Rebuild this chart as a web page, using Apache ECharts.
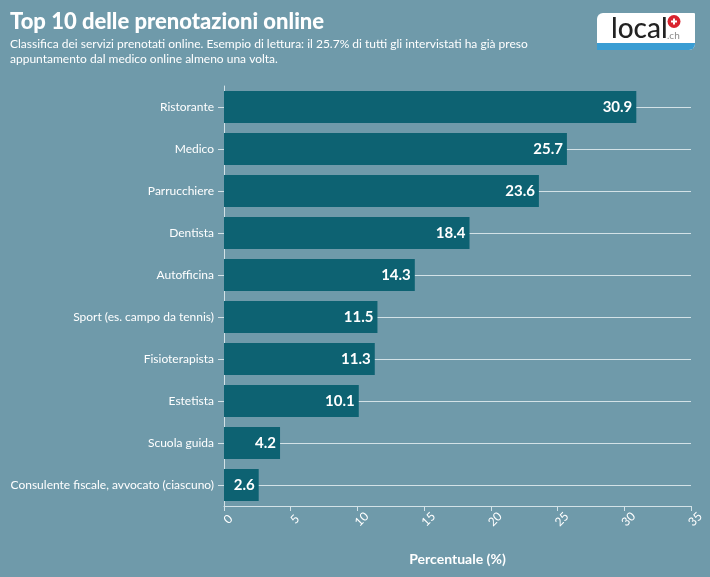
<!DOCTYPE html>
<html><head><meta charset="utf-8">
<style>html,body{margin:0;padding:0;background:#6f9aaa}#c{width:710px;height:577px}</style>
<script src="https://cdn.jsdelivr.net/npm/echarts@6/dist/echarts.min.js"></script></head>
<body><div id="c"></div>
<script>
const categories=["Ristorante","Medico","Parrucchiere","Dentista","Autofficina","Sport (es. campo da tennis)","Fisioterapista","Estetista","Scuola guida","Consulente fiscale, avvocato (ciascuno)"];
const values=[30.9,25.7,23.6,18.4,14.3,11.5,11.3,10.1,4.2,2.6];
const titleText="Top 10 delle prenotazioni online";
const subtitleLines=["Classifica dei servizi prenotati online. Esempio di lettura: il 25.7% di tutti gli intervistati ha già preso","appuntamento dal medico online almeno una volta."];
const axisName="Percentuale (%)";
const F="Lato,'Noto Sans',sans-serif";
const lineColor='#d3e2e7';
const chart=echarts.init(document.getElementById('c'),null,{renderer:'canvas'});
chart.setOption({
 backgroundColor:'#6f9aaa',animation:false,
 grid:{left:224,right:19,top:86,bottom:71,containLabel:false,outerBoundsMode:'none'},
 graphic:[
  {type:'text',left:10,top:11,style:{text:titleText,fill:'#fff',font:"900 22px "+F}},
  {type:'text',left:10,top:37,style:{text:subtitleLines.join("\n"),fill:'#fff',font:"12px "+F,lineHeight:15}},
  {type:'group',left:597,top:13,children:[
   {type:'rect',shape:{x:0,y:0,width:98,height:37,r:[6,1,6,1]},style:{fill:'#fff'}},
   {type:'rect',shape:{x:0,y:30,width:98,height:7,r:[0,0,6,0]},style:{fill:'#3a9dd3'}},
   {type:'text',style:{x:14,y:2,text:'local',fill:'#222',font:"500 28px "+F}},
   {type:'text',style:{x:70,y:18,text:'.ch',fill:'#8a8a8a',font:"10px "+F}},
   {type:'circle',shape:{cx:77,cy:8.5,r:6.5},style:{fill:'#d9232e'}},
   {type:'rect',shape:{x:74,y:7.5,width:6,height:2},style:{fill:'#fff'}},
   {type:'rect',shape:{x:76,y:5.5,width:2,height:6},style:{fill:'#fff'}}
  ]}
 ],
 xAxis:{type:'value',min:0,max:35,interval:5,
  name:axisName,nameLocation:'middle',nameGap:46,
  nameTextStyle:{color:'#fff',fontWeight:'bold',fontSize:14,fontFamily:F},
  axisLine:{show:true,lineStyle:{color:lineColor,width:1}},
  axisTick:{show:true,length:5,lineStyle:{color:lineColor}},
  axisLabel:{color:'#fff',rotate:45,fontSize:12,margin:9,align:'center',verticalAlign:'top',fontFamily:F,showMinLabel:true,showMaxLabel:true},
  splitLine:{show:false}},
 yAxis:{type:'category',inverse:true,data:categories,
  axisLine:{show:true,lineStyle:{color:lineColor,width:1}},
  axisTick:{show:true,length:6,alignWithLabel:true,lineStyle:{color:lineColor}},
  axisLabel:{color:'#fff',fontSize:12,margin:10,fontFamily:F},
  splitLine:{show:false}},
 series:[
  {type:'line',data:[],silent:true,z:1,symbol:'none',
   markLine:{silent:true,symbol:'none',z:1,label:{show:false},animation:false,
    lineStyle:{color:lineColor,width:1,type:'solid'},
    data:categories.map(c=>({yAxis:c}))}},
  {type:'bar',data:values,barWidth:32,itemStyle:{color:'#0d6272'},z:2,
   label:{show:true,position:'insideRight',distance:4,color:'#fff',fontWeight:'bold',fontSize:15,fontFamily:F,formatter:p=>p.value.toFixed(1)}}
 ]
});
</script></body></html>
